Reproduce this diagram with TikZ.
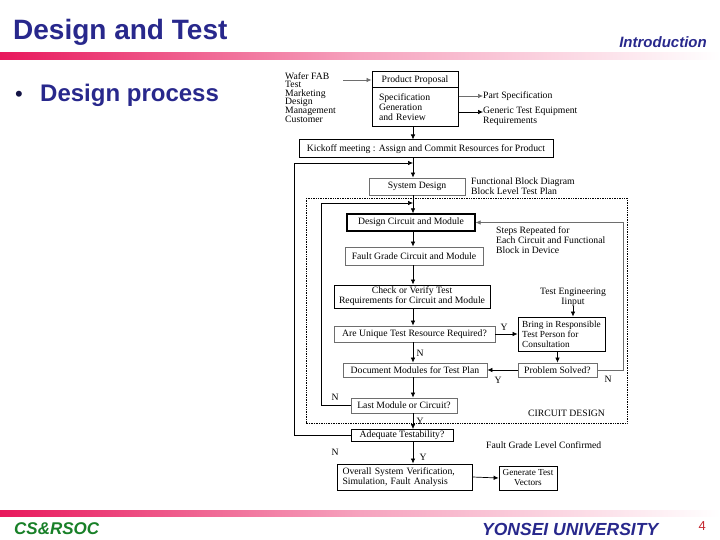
\documentclass[tikz,border=0pt]{standalone}
\usepackage{fontspec}
\setmainfont{Liberation Serif}
\setsansfont{Liberation Sans}
\usetikzlibrary{positioning,arrows.meta}

\definecolor{titleblue}{RGB}{40,40,140}
\definecolor{barpink}{RGB}{232,24,92}
\definecolor{csgreen}{RGB}{24,128,40}
\definecolor{pagered}{RGB}{196,40,48}
\definecolor{boxgray}{RGB}{110,110,110}

\tikzset{
  blk/.style={draw, line width=0.8pt, inner sep=1pt, align=center,
    font=\fontsize{9.7}{10}\selectfont},
  lbl/.style={inner sep=0pt, align=left, font=\fontsize{9.7}{10}\selectfont},
  yn/.style={inner sep=0pt, font=\fontsize{9.7}{10}\selectfont},
  arr/.style={-{Latex[length=5pt,width=4.5pt]}, line width=0.7pt},
}

\begin{document}
\begin{tikzpicture}[x=1pt, y=-1pt]
  \useasboundingbox (0,0) rectangle (720,540);

  % header and footer
  \node[anchor=base west, inner sep=0, text=titleblue,
    font=\sffamily\bfseries\fontsize{28}{30}\selectfont] (title) at (13,40) {Design and Test};
  \node[anchor=base east, inner sep=0, text=titleblue,
    font=\sffamily\bfseries\itshape\fontsize{15}{16}\selectfont] (intro) at (707,48) {Introduction};
  \shade[left color=barpink, right color=white, middle color=barpink!40] (0,53) rectangle (720,60);
  \node[inner sep=0, text=titleblue!50!black, font=\sffamily\fontsize{22}{22}\selectfont] (bullet) at (19,96) {•};
  \node[anchor=base west, inner sep=0, text=titleblue,
    font=\sffamily\bfseries\fontsize{24}{26}\selectfont] (topic) at (40,102) {Design process};
  \shade[left color=barpink, right color=white, middle color=barpink!40] (0,510) rectangle (720,516);
  \node[anchor=base west, inner sep=0, text=csgreen,
    font=\sffamily\bfseries\itshape\fontsize{17}{18}\selectfont] (lab) at (14,534) {CS\&RSOC};
  \node[anchor=base west, inner sep=0, text=titleblue,
    font=\sffamily\bfseries\itshape\fontsize{17.5}{18}\selectfont] (univ) at (482,535) {YONSEI UNIVERSITY};
  \node[anchor=base east, inner sep=0, text=pagered,
    font=\sffamily\fontsize{13}{14}\selectfont] (page) at (706,530) {4};

  % specification stage
  \coordinate (ax) at (413,0);
  \node[lbl, anchor=north west, font=\fontsize{9.7}{8.6}\selectfont] (inputs) at (285,72)
    {Wafer FAB\\Test\\Marketing\\Design\\Management\\Customer};
  \node[blk, line width=1pt, minimum width=86, minimum height=16] (prop) at (415,80) {Product Proposal};
  \node[blk, line width=1pt, minimum height=39, text width=72, inner xsep=7, align=left] (spec) at (415,107.5)
    {Specification\\Generation\\and Review};
  \coordinate (src) at (343,80);
  \draw[arr, boxgray] (src) -- (prop.west);
  \node[lbl, anchor=west] (partspec) at (483,96) {Part Specification};
  \node[lbl, anchor=north west] (generic) at (483,107) {Generic Test Equipment\\Requirements};
  \draw[arr, boxgray] (spec.east |- partspec) -- (partspec.west);
  \draw[arr] (spec.east |- 0,112) -- (generic.west |- 0,112);

  \node[blk, line width=1pt, minimum width=254, minimum height=18] (kick) at (426,149)
    {Kickoff meeting : Assign and Commit Resources for Product};
  \draw[arr] (ax |- spec.south) -- (ax |- kick.north);
  \node[blk, draw=boxgray, minimum width=96, minimum height=17] (sysd) at (417,186.5) {System Design};
  \node[lbl, anchor=north west] (fbd) at (471,178) {Functional Block Diagram\\Block Level Test Plan};
  \draw[arr] (ax |- kick.south) -- (ax |- sysd.north);

  % circuit design loop
  \draw[densely dotted, line width=0.7pt] (306,198) rectangle (627,423);
  \node[blk, line width=1.2pt, minimum width=128, minimum height=17] (dcm) at (411,222.5)
    {Design Circuit and Module};
  \node[lbl, anchor=north west] (steps) at (496,226)
    {Steps Repeated for\\Each Circuit and Functional\\Block in Device};
  \node[blk, draw=boxgray, minimum width=138, minimum height=18] (fault) at (414,256)
    {Fault Grade Circuit and Module};
  \node[blk, line width=1pt, minimum width=156, minimum height=23] (check) at (412,296.5)
    {Check or Verify Test\\Requirements for Circuit and Module};
  \node[lbl, align=center] (tei) at (573,297) {Test Engineering\\Iinput};
  \node[blk, draw=boxgray, minimum width=161, minimum height=16] (uniq) at (414.5,334)
    {Are Unique Test Resource Required?};
  \node[blk, minimum width=87, minimum height=34, inner sep=0pt, align=left,
    font=\fontsize{9.3}{10}\selectfont] (bring) at (561.5,334)
    {Bring in Responsible\\Test Person for\\Consultation};
  \node[blk, draw=boxgray, minimum width=79, minimum height=14] (solved) at (557.5,370) {Problem Solved?};
  \node[blk, draw=boxgray, minimum width=144, minimum height=14] (doc) at (415,370)
    {Document Modules for Test Plan};
  \node[blk, draw=boxgray, minimum width=106, minimum height=15] (last) at (404,405.5)
    {Last Module or Circuit?};
  \node[lbl, anchor=west] (cdlabel) at (528,413) {CIRCUIT DESIGN};

  \draw[arr] (ax |- sysd.south) -- (ax |- dcm.north);
  \draw[arr] (ax |- dcm.south) -- (ax |- fault.north);
  \draw[arr] (ax |- fault.south) -- (ax |- check.north);
  \draw[arr] (ax |- check.south) -- (ax |- uniq.north);
  \draw[arr] (uniq.east) -- (bring.west);
  \node[yn] (y1) at (504,327) {Y};
  \draw[arr] (tei.south) -- (tei.south |- bring.north);
  \draw[arr] (solved.north |- bring.south) -- (solved.north);
  \draw[arr] (solved.west) -- (doc.east);
  \node[yn] (y2) at (498,380) {Y};
  \draw[arr] (ax |- uniq.south) -- (ax |- doc.north);
  \node[yn] (n1) at (420,353) {N};
  \coordinate (nloop) at (623,222.5);
  \draw[arr, boxgray] (solved.east) -| (nloop) -- (dcm.east);
  \node[yn] (n2) at (608,379) {N};
  \draw[arr] (ax |- doc.south) -- (ax |- last.north);
  \coordinate (iloop) at (321,203);
  \coordinate (ijoin) at (413,203);
  \draw[arr] (last.west) -| (iloop) -- (ijoin);
  \node[yn] (n3) at (335,397) {N};

  % system verification
  \node[blk, minimum width=102, minimum height=12, inner sep=0pt] (adeq) at (402,435.5)
    {Adequate Testability?};
  \node[lbl, anchor=west] (fglc) at (486,445) {Fault Grade Level Confirmed};
  \draw[arr] (ax |- last.south) -- (ax |- adeq.north);
  \node[yn] (y3) at (420,421) {Y};
  \coordinate (oloop) at (294,163);
  \coordinate (ojoin) at (413,163);
  \draw[arr] (adeq.west) -| (oloop) -- (ojoin);
  \node[yn] (n4) at (335,452) {N};
  \node[blk, line width=1pt, minimum height=26, text width=124, inner xsep=5.5, align=left] (over) at (404.5,477)
    {Overall System Verification,\\Simulation, Fault Analysis};
  \node[blk, minimum width=58, minimum height=24, inner sep=0pt,
    font=\fontsize{9.2}{10}\selectfont] (gen) at (528,478) {Generate Test\\Vectors};
  \draw[arr] (ax |- adeq.south) -- (ax |- over.north);
  \node[yn] (y4) at (423,457) {Y};
  \draw[arr] (over.east) -- (gen.west);
\end{tikzpicture}
\end{document}
